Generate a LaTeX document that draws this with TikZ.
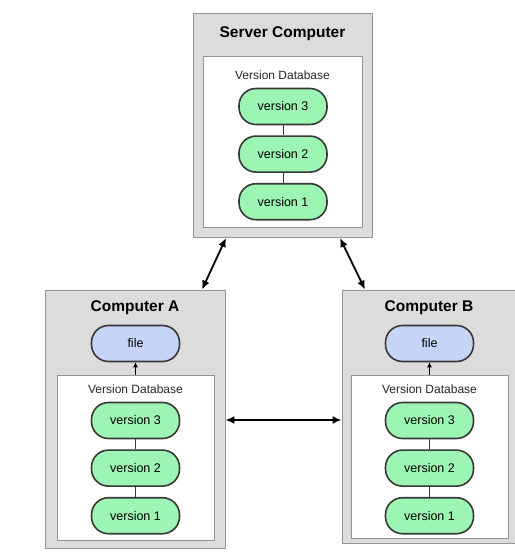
\documentclass[tikz,border=0pt]{standalone}
\usepackage{fontspec}
\setmainfont{Liberation Sans}
\usetikzlibrary{positioning,arrows.meta}
\definecolor{boxgray}{HTML}{DCDCDC}
\definecolor{boxline}{HTML}{959595}
\definecolor{vergreen}{HTML}{9CF5B2}
\definecolor{fileblue}{HTML}{C6D5F7}
\definecolor{pillline}{HTML}{383838}

\begin{document}
\begin{tikzpicture}[x=1pt,y=-1pt,
    machine/.style={draw=boxline,fill=boxgray,line width=0.9pt,inner sep=0pt},
    dbbox/.style={draw=boxline,fill=white,line width=0.9pt,inner sep=0pt},
    title/.style={font=\fontsize{15.5}{18}\selectfont\bfseries},
    dblabel/.style={font=\fontsize{12}{14}\selectfont,text=black!85},
    pill/.style={draw=pillline,line width=1.6pt,rounded corners=17pt,
        minimum width=88pt,minimum height=36pt,font=\fontsize{12.5}{14}\selectfont},
    ver/.style={pill,fill=vergreen},
    work/.style={pill,fill=fileblue},
    link/.style={draw=pillline,line width=0.8pt},
    sync/.style={{Latex[length=9pt,width=8pt]}-{Latex[length=9pt,width=8pt]},line width=1.8pt},
    node distance=10pt]
    \useasboundingbox (0,0) rectangle (514,559);

    % server
    \node[machine,minimum width=179pt,minimum height=224pt] (server) at (282.5,125) {};
    \node[dbbox,minimum width=159pt,minimum height=171pt] (serverdb) at (282.5,141.5) {};
    \node[title] (servertitle) at (282.5,34) {Server Computer};
    \node[dblabel] (serverlabel) at (282.5,75) {Version Database};
    \node[ver] (s3) at (283,106.5) {version 3};
    \node[ver,below=of s3] (s2) {version 2};
    \node[ver,below=of s2] (s1) {version 1};
    \draw[link] (s3) -- (s2) (s2) -- (s1);

    % computer A
    \node[machine,minimum width=180pt,minimum height=258pt] (compa) at (135,419) {};
    \node[dbbox,minimum width=157pt,minimum height=165pt] (adb) at (135.5,457.5) {};
    \node[title] (atitle) at (135,308) {Computer A};
    \node[work] (afile) at (135.5,343.5) {file};
    \node[dblabel] (alabel) at (135.5,389) {Version Database};
    \node[ver] (a3) at (135.5,420.5) {version 3};
    \node[ver,below=of a3] (a2) {version 2};
    \node[ver,below=of a2] (a1) {version 1};
    \draw[link] (a3) -- (a2) (a2) -- (a1);
    \draw[link,black,-{Latex[length=5pt,width=5pt]}] (adb.north -| afile.south) -- (afile.south);

    % computer B
    \node[machine,minimum width=174pt,minimum height=253pt] (compb) at (429,416.5) {};
    \node[dbbox,minimum width=157pt,minimum height=163pt] (bdb) at (429.5,456.5) {};
    \node[title] (btitle) at (429,308) {Computer B};
    \node[work] (bfile) at (429.5,343.5) {file};
    \node[dblabel] (blabel) at (429.5,389) {Version Database};
    \node[ver] (b3) at (429.5,420.5) {version 3};
    \node[ver,below=of b3] (b2) {version 2};
    \node[ver,below=of b2] (b1) {version 1};
    \draw[link] (b3) -- (b2) (b2) -- (b1);
    \draw[link,black,-{Latex[length=5pt,width=5pt]}] (bdb.north -| bfile.south) -- (bfile.south);

    % syncing
    \coordinate (sa) at (226,238);
    \coordinate (sb) at (340,238);
    \draw[sync] (sa) -- (compa.north -| 202,0);
    \draw[sync] (sb) -- (compb.north -| 365,0);
    \draw[sync] (compa.east |- 0,420) -- (compb.west |- 0,420);
\end{tikzpicture}
\end{document}
